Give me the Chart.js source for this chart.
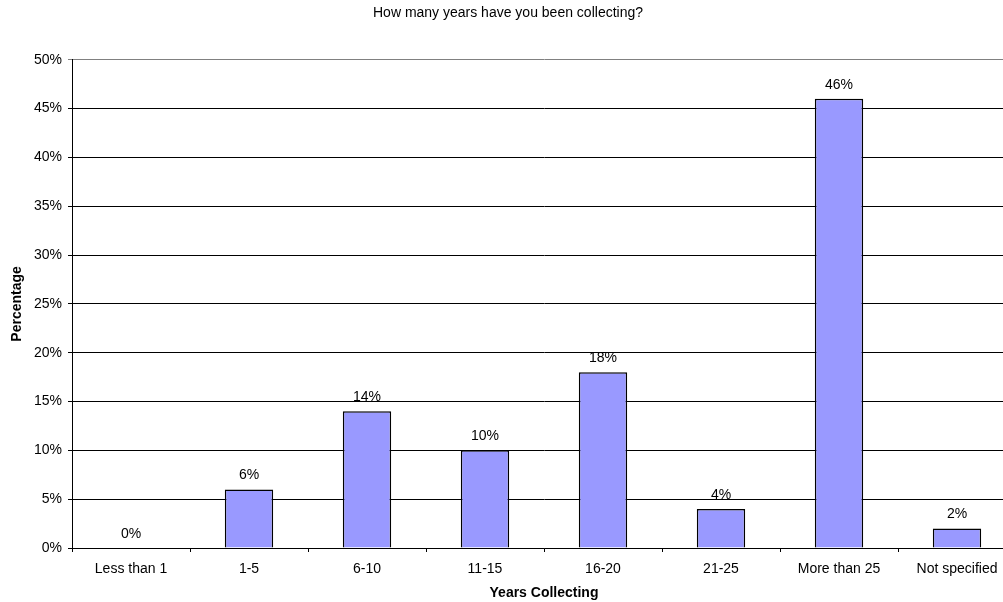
<!DOCTYPE html>
<html>
<head>
<meta charset="utf-8">
<script src="https://cdn.jsdelivr.net/npm/chart.js@4"></script>
<style>
  html, body { margin: 0; padding: 0; background: #fff; overflow: hidden; }
  #wrap { width: 1016px; height: 602px; }
</style>
</head>
<body>
<div id="wrap"><canvas id="myChart"></canvas></div>
<script>
const categories = ['Less than 1', '1-5', '6-10', '11-15', '16-20', '21-25', 'More than 25', 'Not specified'];
const percentages = [0, 6, 14, 10, 18, 4, 46, 2];
const yTicks = [0, 5, 10, 15, 20, 25, 30, 35, 40, 45, 50];

const fontFamily = "'Liberation Sans', Arial, sans-serif";
Chart.defaults.font.family = fontFamily;
Chart.defaults.color = '#000';

// labels above each bar
const barLabels = {
    id: 'barLabels',
    afterDatasetsDraw(chart) {
        const c = chart.ctx;
        const meta = chart.getDatasetMeta(0);
        c.save();
        c.font = '14px ' + fontFamily;
        c.fillStyle = '#000';
        c.textAlign = 'center';
        c.textBaseline = 'middle';
        meta.data.forEach((bar, i) => {
            c.fillText(percentages[i] + '%', bar.x, bar.y - 14);
        });
        c.restore();
    }
};

const ctx = document.getElementById('myChart').getContext('2d');
const myChart = new Chart(ctx, {
    type: 'bar',
    data: {
        labels: categories,
        datasets: [{
            label: 'Percentage',
            data: percentages,
            backgroundColor: '#9999FF',
            borderColor: '#000',
            borderWidth: 1.5,
            categoryPercentage: 0.41,
            barPercentage: 1
        }]
    },
    options: {
        responsive: true,
        maintainAspectRatio: false,
        animation: false,
        layout: { padding: { left: 0, right: 0, top: 0, bottom: 0 } },
        plugins: {
            legend: { display: false },
            tooltip: { enabled: false },
            title: {
                display: true,
                text: 'How many years have you been collecting?',
                font: { size: 14, weight: 'normal' },
                color: '#000',
                padding: { top: 5, bottom: 38 }
            }
        },
        scales: {
            x: {
                grid: { drawOnChartArea: false, drawTicks: true, tickLength: 4, color: '#000' },
                border: { color: '#000', width: 1 },
                ticks: { font: { size: 14 }, color: '#000', padding: 9, maxRotation: 0 },
                title: { display: true, text: 'Years Collecting', font: { size: 14, weight: 'bold' }, color: '#000', padding: { top: 4, bottom: 0 } },
                afterFit(scale) { scale.height = 54; }
            },
            y: {
                min: 0,
                max: 50,
                afterBuildTicks(scale) { scale.ticks = yTicks.map(v => ({ value: v })); },
                grid: {
                    color: (c) => c.tick && c.tick.value === 50 ? '#808080' : '#000',
                    tickLength: 4
                },
                border: { color: '#000', width: 1 },
                ticks: { font: { size: 14 }, color: '#000', padding: 6, callback: (v) => v + '%' },
                title: { display: true, text: 'Percentage', font: { size: 14, weight: 'bold' }, color: '#000', padding: { top: 9, bottom: 4 } },
                afterFit(scale) { scale.width = 72; }
            }
        }
    },
    plugins: [barLabels]
});
</script>
</body>
</html>
